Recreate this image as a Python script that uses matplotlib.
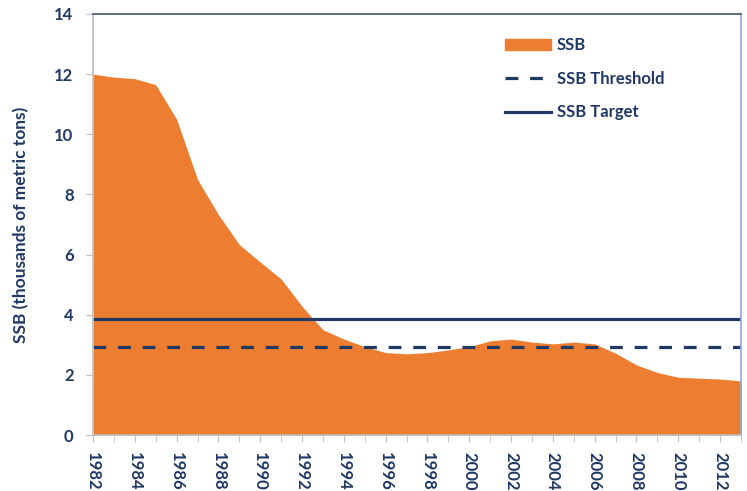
import numpy as np
import matplotlib.pyplot as plt
from matplotlib.patches import Patch
from matplotlib.lines import Line2D

""" SSB with threshold and target """

years = np.arange(1982, 2014)
ssb = [12.0, 11.9, 11.85, 11.65, 10.5, 8.5, 7.33, 6.33, 5.75, 5.19,
       4.28, 3.5, 3.19, 2.94, 2.74, 2.70, 2.74, 2.83, 2.94, 3.13,
       3.19, 3.09, 3.03, 3.09, 3.03, 2.72, 2.33, 2.08, 1.92, 1.89,
       1.86, 1.80]
threshold = 2.92
target = 3.87
tick_years = years[::2]

orange = '#ED7D31'
navy = '#1F3864'
dash = (0, (4, 3.7))
plt.rcParams['font.family'] = ['Lato', 'DejaVu Sans']

fig = plt.figure(figsize=(7.47, 4.91), dpi=100)
ax = fig.add_axes([93/747, 56/491, 648/747, 421/491])

ax.fill_between(years, ssb, 0, color=orange, lw=0)
ax.axhline(threshold, color=navy, lw=2.3, ls=dash)
ax.axhline(target, color=navy, lw=2.3)

ax.set_xlim(1982, 2013)
ax.set_ylim(0, 14)
ax.set_yticks(range(0, 15, 2))
ax.set_xticks(years, minor=True)
ax.set_xticks(tick_years)
ax.set_xticklabels([str(y) for y in tick_years], rotation=270)
ax.tick_params(axis='x', which='both', length=5, color='#BFBFBF', direction='out', pad=7)
ax.tick_params(axis='y', length=5, color='#BFBFBF', direction='out', pad=9)
for lab in ax.get_xticklabels() + ax.get_yticklabels():
    lab.set_color(navy)
    lab.set_fontweight('bold')
    lab.set_fontsize(12)

ax.spines['left'].set_color('#BFBFBF')
ax.spines['bottom'].set_color('#BFBFBF')
ax.spines['top'].set_color('#44546A')
ax.spines['right'].set_color('#8EA9DB')
for s in ax.spines.values():
    s.set_linewidth(1.2)

ax.set_ylabel('SSB (thousands of metric tons)', color=navy, fontweight='bold',
              fontsize=12.5, labelpad=18)

handles = [Patch(color=orange, label='SSB'),
           Line2D([], [], color=navy, lw=2.3, ls=dash, label='SSB Threshold'),
           Line2D([], [], color=navy, lw=2.3, label='SSB Target')]
leg = ax.legend(handles=handles, loc='upper left', bbox_to_anchor=(0.612, 0.98),
                frameon=False, handlelength=2.8, labelspacing=1.05, handletextpad=0.35,
                prop={'weight': 'bold', 'size': 12})
for t in leg.get_texts():
    t.set_color(navy)

plt.savefig('out.png', dpi=100)
